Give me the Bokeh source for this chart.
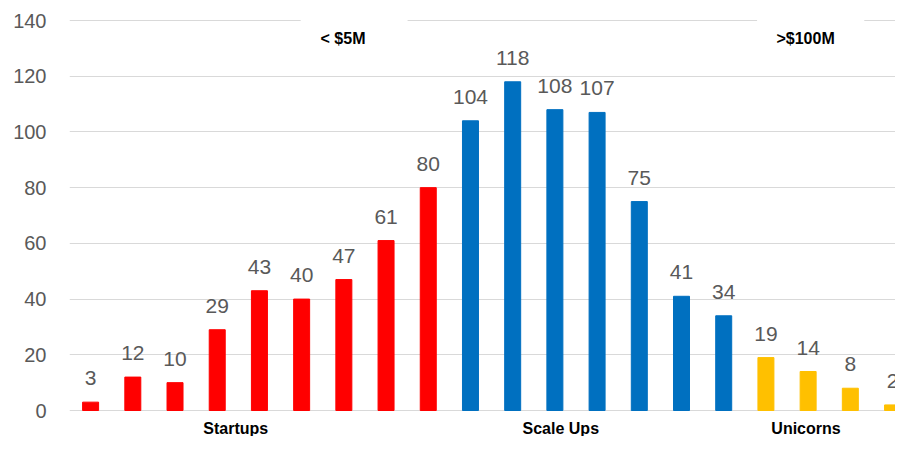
from bokeh.plotting import figure
from bokeh.models import Range1d, FixedTicker, ColumnDataSource
from bokeh.core.properties import value
from bokeh.embed import file_html
from bokeh.resources import INLINE

# ---- data ----
startups = [3, 12, 10, 29, 43, 40, 47, 61, 80]
scaleups = [104, 118, 108, 107, 75, 41, 34]
unicorns = [19, 14, 8, 2]
group_names = ["Startups", "Scale Ups", "Unicorns"]
band_labels = ["< $5M", ">$100M"]
y_ticks = [0, 20, 40, 60, 80, 100, 120, 140]
colors_by_group = ["#FF0000", "#0070C0", "#FFC000"]

vals = startups + scaleups + unicorns
cols = ([colors_by_group[0]] * len(startups) + [colors_by_group[1]] * len(scaleups)
        + [colors_by_group[2]] * len(unicorns))
xs = list(range(len(vals)))
src = ColumnDataSource(dict(x=xs, top=vals, color=cols, lab=[str(v) for v in vals]))

p = figure(width=895, height=436, output_backend="svg", toolbar_location=None,
           title=None, min_border_left=69, min_border_right=0, min_border_top=0,
           min_border_bottom=0, x_range=Range1d(-0.5, 19.07),
           y_range=Range1d(-9.33, 147.18))
p.outline_line_color = None
p.background_fill_color = "white"
p.border_fill_color = "white"
p.xaxis.visible = False
p.xgrid.visible = False
p.ygrid.grid_line_color = "#d9d9d9"
p.ygrid.grid_line_width = 1
p.yaxis.ticker = FixedTicker(ticks=y_ticks)
p.yaxis.axis_line_color = None
p.yaxis.major_tick_line_color = None
p.yaxis.minor_tick_line_color = None
p.yaxis.major_tick_out = 0
p.yaxis.major_label_standoff = 23
p.yaxis.major_label_text_font = "Liberation Sans"
p.yaxis.major_label_text_font_size = "20px"
p.yaxis.major_label_text_color = "#595959"

p.vbar(x="x", top="top", width=0.379, color="color", source=src)

p.text(x="x", y="top", text="lab", source=src, text_align="center",
       text_baseline="middle", y_offset=-24, text_font=value("Liberation Sans"),
       text_font_size="21px", text_color="#595959")

# white text-box backgrounds that interrupt the top gridline
p.quad(left=[4.977, 15.79], right=[7.51, 18.33], bottom=[138, 138], top=[142, 142],
       fill_color="white", line_color=None)

p.text(x=[5.98, 16.94], y=[133.6, 133.6], text=band_labels, text_align="center",
       text_baseline="middle", text_font=value("Liberation Sans"),
       text_font_size="16px", text_font_style="bold", text_color="black")

p.text(x=[3.44, 11.14, 16.95], y=[-6.5, -6.5, -6.5], text=group_names,
       text_align="center", text_baseline="middle",
       text_font=value("Liberation Sans"), text_font_size="16px",
       text_font_style="bold", text_color="black")

open("out.html", "w").write(file_html(p, INLINE))
